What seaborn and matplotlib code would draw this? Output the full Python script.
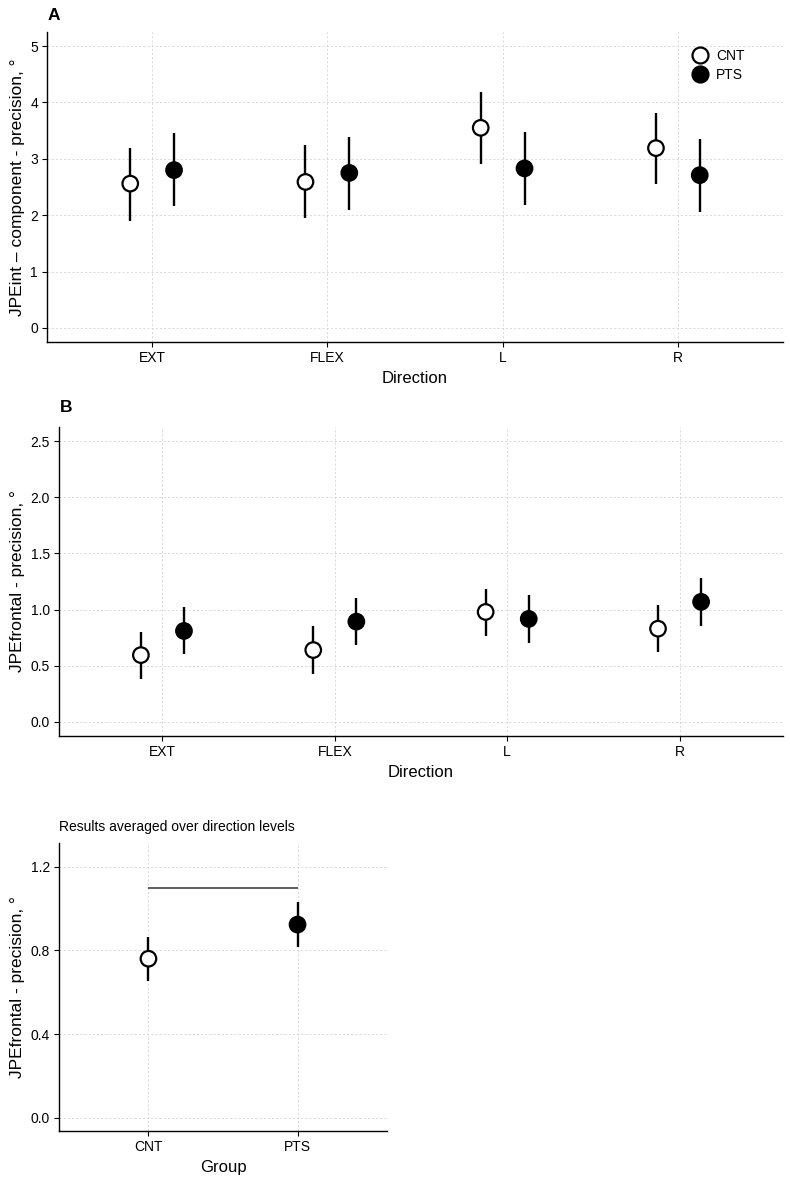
import numpy as np
import pandas as pd
import matplotlib
matplotlib.use("Agg")
import matplotlib.pyplot as plt
from matplotlib.ticker import FormatStrFormatter
import seaborn as sns

# ---------------- data ----------------
directions = ["EXT", "FLEX", "L", "R"]
groups = ["CNT", "PTS"]

# Panel A: JPEint - component - precision
a_cnt_mean = [2.56, 2.59, 3.55, 3.19]
a_cnt_lo = [1.90, 1.95, 2.91, 2.55]
a_cnt_hi = [3.20, 3.24, 4.19, 3.82]
a_pts_mean = [2.80, 2.75, 2.83, 2.71]
a_pts_lo = [2.16, 2.09, 2.18, 2.06]
a_pts_hi = [3.46, 3.39, 3.47, 3.35]

# Panel B: JPEfrontal - precision
b_cnt_mean = [0.595, 0.64, 0.979, 0.83]
b_cnt_lo = [0.384, 0.426, 0.765, 0.619]
b_cnt_hi = [0.80, 0.851, 1.187, 1.044]
b_pts_mean = [0.81, 0.893, 0.917, 1.069]
b_pts_lo = [0.604, 0.681, 0.702, 0.857]
b_pts_hi = [1.024, 1.104, 1.128, 1.283]

# Panel C: averaged over direction levels
c_mean = [0.76, 0.923]
c_lo = [0.655, 0.818]
c_hi = [0.866, 1.029]
c_bracket_y = 1.10

a_yticks = [0, 1, 2, 3, 4, 5]
b_yticks = [0.0, 0.5, 1.0, 1.5, 2.0, 2.5]
c_yticks = [0.0, 0.4, 0.8, 1.2]

# ---------------- style ----------------
sns.set_theme(style="white")
plt.rcParams["font.family"] = ["Liberation Sans", "DejaVu Sans"]
plt.rcParams["text.color"] = "black"
plt.rcParams["axes.labelcolor"] = "black"
plt.rcParams["xtick.color"] = "black"
plt.rcParams["ytick.color"] = "black"

palette = {"CNT": "white", "PTS": "black"}
offsets = {"CNT": -0.125, "PTS": 0.125}
W, H = 790, 1181
fig = plt.figure(figsize=(W / 100, H / 100), dpi=100)


def rect(l, t, r, b):
    return [l / W, 1 - b / H, (r - l) / W, (b - t) / H]


def style_axes(ax):
    for s in ["top", "right"]:
        ax.spines[s].set_visible(False)
    for s in ["left", "bottom"]:
        ax.spines[s].set_color("black")
        ax.spines[s].set_linewidth(1.0)
    ax.grid(True, color="#d4d4d4", linestyle=(0, (2.5, 2.5)), linewidth=0.6)
    ax.set_axisbelow(True)
    ax.tick_params(axis="both", length=3.5, width=0.8, color="black",
                   labelsize=10, labelcolor="black", pad=3, direction="out",
                   bottom=True, left=True)


def dodge_panel(ax, cnt, pts, yticks, ylim, ylabel, legend=False):
    rows = []
    for g, (m, lo, hi) in zip(groups, [cnt, pts]):
        for di, d in enumerate(directions):
            rows.append(dict(Direction=d, Group=g, x=di + offsets[g],
                             mean=m[di], lo=lo[di], hi=hi[di]))
    df = pd.DataFrame(rows)
    ax.vlines(df["x"], df["lo"], df["hi"], color="black", lw=1.7, zorder=2)
    sns.scatterplot(data=df, x="x", y="mean", hue="Group", hue_order=groups,
                    palette=palette, edgecolor="black", linewidth=1.6, s=125,
                    zorder=3, ax=ax, legend=legend)
    ax.set_xticks(range(len(directions)))
    ax.set_xticklabels(directions)
    ax.set_xlim(-0.6, len(directions) - 0.4)
    ax.set_yticks(yticks)
    ax.set_ylim(*ylim)
    ax.set_xlabel("Direction", fontsize=12, labelpad=4)
    ax.set_ylabel(ylabel, fontsize=12.5, labelpad=4)
    style_axes(ax)
    return ax


# Panel A
axA = fig.add_axes(rect(47, 32, 783, 342))
dodge_panel(axA, (a_cnt_mean, a_cnt_lo, a_cnt_hi), (a_pts_mean, a_pts_lo, a_pts_hi),
            a_yticks, (-0.25, 5.25), "JPEint \u2013 component - precision, \u00b0",
            legend=True)
axA.yaxis.set_major_formatter(FormatStrFormatter("%d"))
leg = axA.legend(frameon=False, loc="upper left",
                 bbox_to_anchor=(679 / W, 1 - 42 / H), bbox_transform=fig.transFigure,
                 fontsize=10, handletextpad=0.15, labelspacing=0.35, borderpad=0,
                 title=None)
for h in leg.legend_handles:
    h.set_markeredgecolor("black")
    h.set_markeredgewidth(1.6)
    h.set_markersize(11.5)

# Panel B
axB = fig.add_axes(rect(59, 427, 783, 736))
dodge_panel(axB, (b_cnt_mean, b_cnt_lo, b_cnt_hi), (b_pts_mean, b_pts_lo, b_pts_hi),
            b_yticks, (-0.125, 2.625), "JPEfrontal - precision, \u00b0")
axB.yaxis.set_major_formatter(FormatStrFormatter("%.1f"))

# Panel C
axC = fig.add_axes(rect(59, 843, 387, 1131))
dfc = pd.DataFrame(dict(Group=groups, mean=c_mean, lo=c_lo, hi=c_hi))
axC.vlines(range(len(groups)), dfc["lo"], dfc["hi"], color="black", lw=1.7, zorder=2)
sns.scatterplot(data=dfc, x="Group", y="mean", hue="Group", hue_order=groups,
                palette=palette, edgecolor="black", linewidth=1.6, s=125,
                zorder=3, ax=axC, legend=False)
axC.hlines(c_bracket_y, 0, 1, color="#333333", lw=1.1, zorder=2)
axC.set_xticks(range(len(groups)))
axC.set_xticklabels(groups)
axC.set_xlim(-0.6, 1.6)
axC.set_yticks(c_yticks)
axC.set_ylim(-0.0625, 1.3125)
axC.yaxis.set_major_formatter(FormatStrFormatter("%.1f"))
axC.set_xlabel("Group", fontsize=12, labelpad=4)
axC.set_ylabel("JPEfrontal - precision, \u00b0", fontsize=12.5, labelpad=4)
axC.set_title("Results averaged over direction levels", loc="left",
              fontsize=10, pad=9)
style_axes(axC)

# panel letters
fig.text(48 / W, 1 - 8 / H, "A", fontsize=12.5, fontweight="bold", va="top", ha="left")
fig.text(60 / W, 1 - 400 / H, "B", fontsize=12.5, fontweight="bold", va="top", ha="left")

fig.savefig("out.png", dpi=100, facecolor="white")
